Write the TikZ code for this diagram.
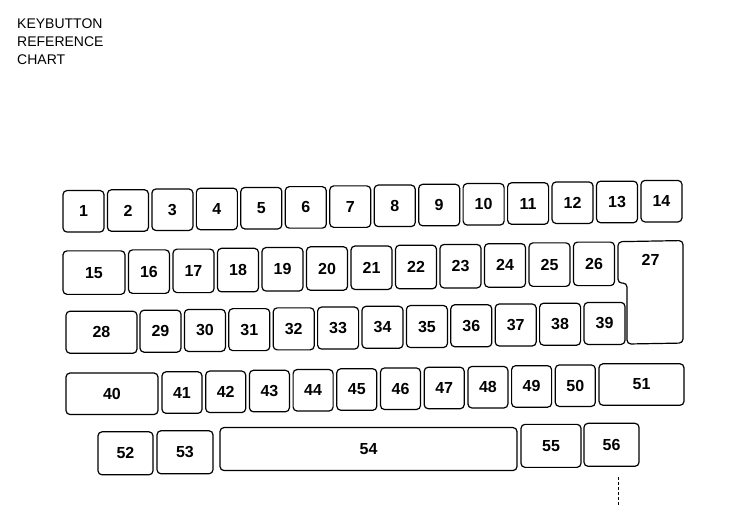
\documentclass[tikz,border=0pt]{standalone}
\usepackage{fontspec}
\setmainfont{Liberation Sans}
\begin{document}
\begin{tikzpicture}[x=1pt,y=-1pt]

\useasboundingbox (0,0) rectangle (736,516);

\def \slant {0.0175} % the scan runs a little uphill
\def \keyfont {\bfseries\fontsize{16}{16}\selectfont}

\node[anchor=north west, inner sep=0, align=left, font=\fontsize{14}{18}\selectfont] (title) at (17,19)
  {KEYBUTTON\\REFERENCE\\CHART};

\begin{scope}[yslant=\slant, every node/.style={draw, rounded corners=4pt, line width=1.2pt, inner sep=0, font=\keyfont, minimum width=41pt, minimum height=42pt}]
% row 1
\foreach \id [count=\s from 0] in {1,...,14}
  \node[minimum height=41.5pt] (k\id) at ({83.5+44.46*\s},212.75) {\id};

% row 2
\node[minimum width=62pt, minimum height=43.5pt] (k15) at (94,274.25) {15};
\foreach \id [count=\s from 0] in {16,...,26}
  \node[minimum height=43.5pt] (k\id) at ({149+44.5*\s},274.25) {\id};
\draw[rounded corners=4pt, line width=1.2pt] (618,252.5) -- (683,252.5) -- (683,355)
  -- (627,355) -- (627,294) -- (618,294) -- cycle;
\node[draw=none] (k27) at (650.5,271) {27};

% row 3
\node[minimum width=71pt] (k28) at (101.5,334) {28};
\foreach \id [count=\s from 0] in {29,...,39}
  \node (k\id) at ({160.5+44.4*\s},334) {\id};

% row 4
\node[minimum width=92pt, minimum height=41.5pt] (k40) at (112,395.75) {40};
\foreach \id [count=\s from 0] in {41,...,50}
  \node[minimum width=40pt, minimum height=41.5pt] (k\id) at ({182+43.7*\s},395.75) {\id};
\node[minimum width=85pt, minimum height=41.5pt] (k51) at (641.5,395.75) {51};

% row 5
\foreach \id/\x/\w in {52/125.5/55, 53/185/56, 54/368.5/297, 55/551/60, 56/611.5/55}
  \node[minimum width=\w pt, minimum height=43pt] (k\id) at (\x,455.5) {\id};
\end{scope}

\draw[line width=0.8pt, dash pattern=on 3pt off 2pt] (618,477) -- (618,505);

\end{tikzpicture}
\end{document}
